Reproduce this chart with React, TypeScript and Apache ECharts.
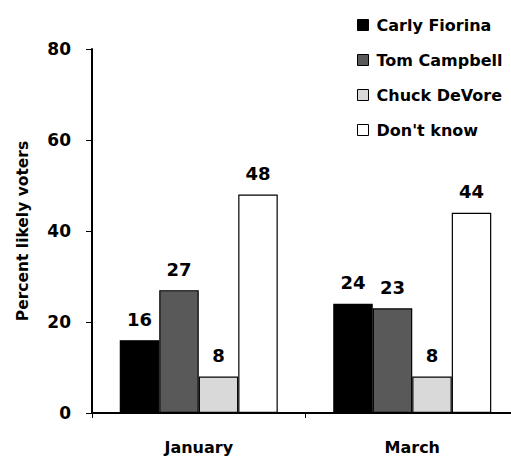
import React, { useEffect, useRef } from "react";
import * as echarts from "echarts";

const months = ["January", "March"];
const fiorina = [16, 24];
const campbell = [27, 23];
const devore = [8, 8];
const dontKnow = [48, 44];
const yTicks = [0, 20, 40, 60, 80];

const FONT = "'DejaVu Sans', Verdana, sans-serif";

export default function App() {
  const ref = useRef<HTMLDivElement>(null);

  useEffect(() => {
    if (!ref.current) return;
    const chart = echarts.init(ref.current, null, { renderer: "svg" });

    const mk = (name: string, data: number[], color: string) => ({
      name,
      type: "bar",
      data,
      barWidth: 39.5,
      barGap: "0%",
      itemStyle: { color, borderColor: "#000", borderWidth: 1.2 },
      label: {
        show: true,
        position: "top",
        distance: 12,
        color: "#000",
        fontFamily: FONT,
        fontWeight: "bold",
        fontSize: 18,
      },
    });

    chart.setOption({
      animation: false,
      backgroundColor: "#fff",
      textStyle: { fontFamily: FONT },
      legend: {
        orient: "vertical",
        left: 352,
        top: 12,
        itemWidth: 11,
        itemHeight: 11,
        itemGap: 19,
        icon: "rect",
        textStyle: {
          fontFamily: FONT,
          fontWeight: "bold",
          fontSize: 16,
          color: "#000",
          padding: [0, 0, 0, 3],
        },
        itemStyle: { borderColor: "#000", borderWidth: 1 },
      },
      // the plot runs a little past the right edge of the visible frame
      grid: { left: 92, right: 0, top: 49, bottom: 45, containLabel: false },
      xAxis: {
        type: "category",
        data: months,
        axisLine: { lineStyle: { color: "#000", width: 2 } },
        axisTick: { show: true, length: 5, lineStyle: { color: "#000", width: 1 } },
        axisLabel: { margin: 26, color: "#000", fontFamily: FONT, fontWeight: "bold", fontSize: 16 },
      },
      yAxis: {
        type: "value",
        min: yTicks[0],
        max: yTicks[yTicks.length - 1],
        interval: 20,
        name: "Percent likely voters",
        nameLocation: "middle",
        nameGap: 61,
        nameTextStyle: { color: "#000", fontFamily: FONT, fontWeight: "bold", fontSize: 15.5 },
        splitLine: { show: false },
        axisLine: { show: true, lineStyle: { color: "#000", width: 2 } },
        axisTick: { show: true, length: 6, lineStyle: { color: "#000", width: 1 } },
        axisLabel: { margin: 21, color: "#000", fontFamily: FONT, fontWeight: "bold", fontSize: 17 },
      },
      series: [
        mk("Carly Fiorina", fiorina, "#000000"),
        mk("Tom Campbell", campbell, "#595959"),
        mk("Chuck DeVore", devore, "#d9d9d9"),
        mk("Don't know", dontKnow, "#ffffff"),
      ],
    });

    return () => chart.dispose();
  }, []);

  return (
    <div style={{ position: "fixed", left: 0, top: 0, width: 511, height: 458, overflow: "hidden" }}>
      <div ref={ref} style={{ width: 519, height: 458 }} />
    </div>
  );
}
